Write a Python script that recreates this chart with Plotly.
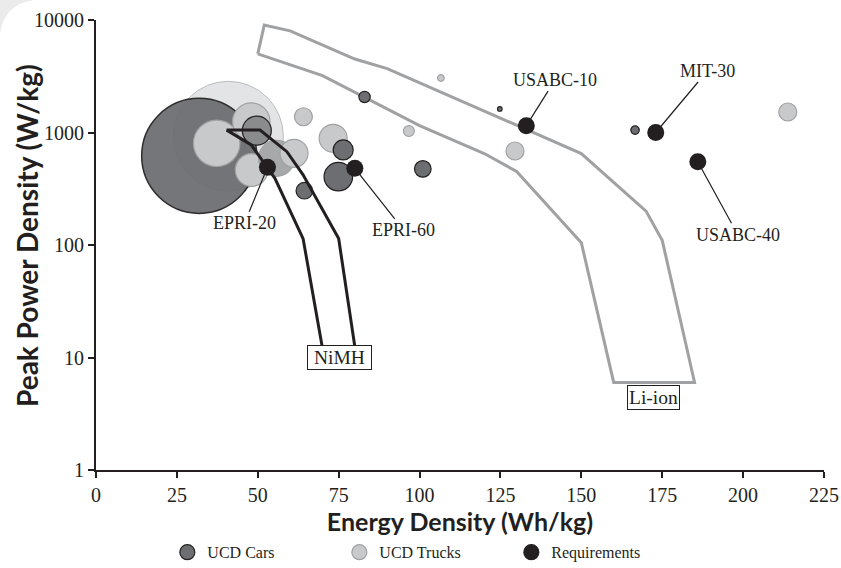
import math
import plotly.graph_objects as go

# ---------------- data ----------------
# Li-ion performance region outline (Wh/kg, W/kg)
liion_energy = [50, 70, 100, 120, 130, 150, 160, 185, 175, 170, 150, 90, 80, 60, 52, 50]
liion_power = [5000, 3200, 1150, 650, 450, 105, 6, 6, 110, 200, 650, 3700, 4500, 8000, 9000, 5000]

# NiMH performance region outline
nimh_energy = [70.5, 64, 55.3, 48, 40.4, 50.7, 59, 64, 75, 80.5]
nimh_power = [10, 114, 392, 775, 1050, 1050, 675, 420, 114, 10]

# UCD cars: energy density, peak power density, relative bubble value
car_energy = [31.9, 49.7, 64.4, 74.9, 76.4, 83.0, 101.0, 124.8, 166.6]
car_power = [620, 1040, 304, 405, 700, 2070, 475, 1620, 1050]
car_value = [33.1, 2.1, 0.69, 2.04, 1.0, 0.32, 0.69, 0.053, 0.18]

# UCD trucks
truck_energy = [40.9, 37.3, 48.0, 48.1, 55.8, 61.2, 64.1, 73.3, 96.7, 106.6, 129.5, 213.8]
truck_power = [925, 802, 1248, 464, 590, 653, 1381, 888, 1031, 3050, 685, 1522]
truck_value = [30.25, 5.4, 3.5, 2.66, 3.24, 1.96, 0.81, 1.96, 0.30, 0.11, 0.81, 0.81]

# Requirements
req_names = ["EPRI-20", "EPRI-60", "USABC-10", "MIT-30", "USABC-40"]
req_energy = [53, 80, 133, 173, 186]
req_power = [490, 480, 1150, 1000, 550]

x_ticks = [0, 25, 50, 75, 100, 125, 150, 175, 200, 225]
y_ticks = [1, 10, 100, 1000, 10000]
y_tick_labels = ["1", "10", "100", "1000", "10000"]

# ---------------- styling ----------------
INK = "#231f20"
CAR = "#6d6e71"
TRUCK = "#c8c9cb"
SERIF = "Liberation Serif"
SANS = "Lato"
SIZEREF = 0.005

fig = go.Figure()

# Li-ion region
fig.add_trace(go.Scatter(x=liion_energy, y=liion_power, mode="lines",
                         line=dict(color="#a0a1a3", width=3), showlegend=False,
                         hoverinfo="skip"))

# big truck bubble (background)
fig.add_trace(go.Scatter(x=truck_energy[:1], y=truck_power[:1], mode="markers",
                         marker=dict(size=truck_value[:1], sizemode="area", sizeref=SIZEREF,
                                     color="#e3e4e5", opacity=1,
                                     line=dict(color="#bcbdbf", width=1)),
                         showlegend=False))
# big car bubble
fig.add_trace(go.Scatter(x=car_energy[:1], y=car_power[:1], mode="markers",
                         marker=dict(size=car_value[:1], sizemode="area", sizeref=SIZEREF,
                                     color=CAR, opacity=0.94, line=dict(color=INK, width=1.5)),
                         showlegend=False))
# other trucks
truck_colors = [TRUCK] * (len(truck_energy) - 1)
truck_colors[3] = "#a7a8aa"
fig.add_trace(go.Scatter(x=truck_energy[1:], y=truck_power[1:], mode="markers",
                         marker=dict(size=truck_value[1:], sizemode="area", sizeref=SIZEREF,
                                     color=truck_colors, opacity=1,
                                     line=dict(color="#a0a1a3", width=1.2)),
                         showlegend=False))
# other cars
car_colors = [CAR] * (len(car_energy) - 1)
car_colors[0] = "#8a8b8d"
fig.add_trace(go.Scatter(x=car_energy[1:], y=car_power[1:], mode="markers",
                         marker=dict(size=car_value[1:], sizemode="area", sizeref=SIZEREF,
                                     color=car_colors, opacity=1,
                                     line=dict(color=INK, width=1.2)),
                         showlegend=False))
# NiMH region
fig.add_trace(go.Scatter(x=nimh_energy, y=nimh_power, mode="lines",
                         line=dict(color=INK, width=3), showlegend=False, hoverinfo="skip"))
# requirements
fig.add_trace(go.Scatter(x=req_energy, y=req_power, mode="markers", text=req_names,
                         marker=dict(size=17, color=INK, opacity=1), showlegend=False))

# legend entries
for name, col, lcol in [("UCD Cars", CAR, INK), ("UCD Trucks", TRUCK, "#a0a1a3"),
                        ("Requirements", INK, INK)]:
    fig.add_trace(go.Scatter(x=[None], y=[None], mode="markers", name=name,
                             marker=dict(size=15, color=col, line=dict(color=lcol, width=1.2))))

# requirement labels with leader lines (pixel offsets); log axis -> log10 positions
label_offsets = {"EPRI-20": (-23, 56), "EPRI-60": (49, 62), "USABC-10": (29, -46),
                 "MIT-30": (52, -62), "USABC-40": (40, 73)}
for n, xe, yp in zip(req_names, req_energy, req_power):
    ax, ay = label_offsets[n]
    fig.add_annotation(x=xe, y=math.log10(yp), xref="x", yref="y", text=n, showarrow=True,
                       ax=ax, ay=ay, arrowhead=0, arrowwidth=1.2, arrowcolor=INK,
                       standoff=0, font=dict(family=SERIF, size=18, color=INK))

# region labels
fig.add_annotation(x=75.2, y=math.log10(10), xref="x", yref="y", text="&nbsp;NiMH&nbsp;",
                   showarrow=False, bgcolor="white", bordercolor=INK, borderwidth=1,
                   borderpad=1, font=dict(family=SERIF, size=19.5, color=INK))
fig.add_annotation(x=172.3, y=math.log10(4.4), xref="x", yref="y", text="Li-ion",
                   showarrow=False, bgcolor="white", bordercolor=INK, borderwidth=1,
                   borderpad=1, font=dict(family=SERIF, size=19.5, color=INK))

# y-axis title
fig.add_annotation(x=(27 - 96) / 728, y=(470 - 236) / 450, xref="paper", yref="paper",
                   xanchor="center", yanchor="middle",
                   text="Peak Power Density (W/kg)", textangle=-90, showarrow=False,
                   font=dict(family=SANS, size=28, color=INK, weight="bold"))

# rounded page corner (top-left)
fig.add_shape(type="path", xref="paper", yref="paper", xsizemode="pixel", ysizemode="pixel",
              xanchor=-96 / 728, yanchor=1 + 20 / 450,
              path="M0,0 L34,0 Q4,-4 0,-34 Z", fillcolor="#ebebec", line=dict(width=0),
              layer="below")

axis_common = dict(showline=True, linecolor=INK, linewidth=2, ticks="outside", ticklen=6,
                   tickwidth=2, tickcolor=INK, showgrid=False, zeroline=False,
                   tickfont=dict(family=SERIF, size=20, color=INK))

fig.update_layout(
    width=841, height=568,
    margin=dict(l=96, r=17, t=20, b=98, autoexpand=False),
    paper_bgcolor="white", plot_bgcolor="white",
    xaxis=dict(range=[0, 225], tickvals=x_ticks,
               title=dict(text="Energy Density (Wh/kg)", standoff=6,
                          font=dict(family=SANS, size=25, color=INK, weight="bold")),
               **axis_common),
    yaxis=dict(type="log", range=[0, 4], tickvals=y_ticks, ticktext=y_tick_labels,
               **axis_common),
    legend=dict(orientation="h", x=0.098, xanchor="left", y=-0.145, yanchor="top",
                font=dict(family=SERIF, size=16, color=INK), entrywidth=127,
                bgcolor="rgba(0,0,0,0)"),
    showlegend=True,
)

fig.write_html("out.html", config={"displayModeBar": False},
               post_script="document.body.style.margin='0';")
